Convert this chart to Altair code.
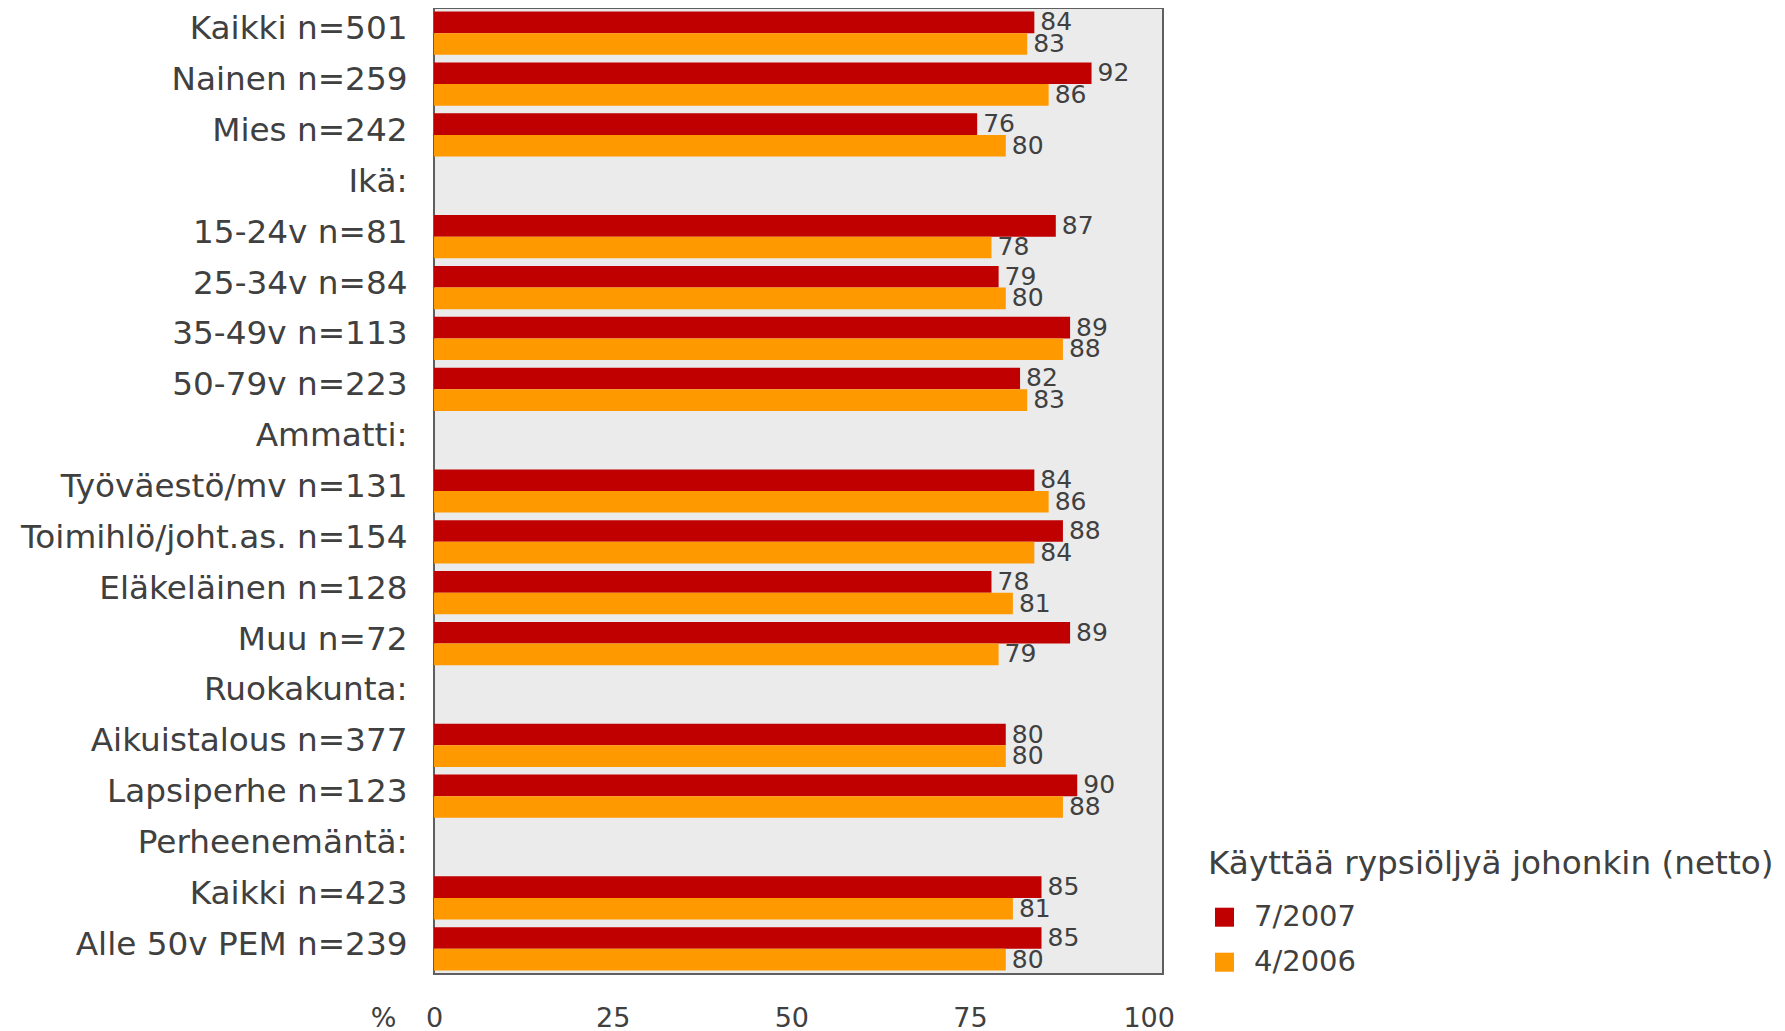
import altair as alt
import pandas as pd

rows = [
    "Kaikki n=501", "Nainen n=259", "Mies n=242", "Ikä:",
    "15-24v n=81", "25-34v n=84", "35-49v n=113", "50-79v n=223", "Ammatti:",
    "Työväestö/mv n=131", "Toimihlö/joht.as. n=154", "Eläkeläinen n=128", "Muu n=72",
    "Ruokakunta:", "Aikuistalous n=377", "Lapsiperhe n=123", "Perheenemäntä:",
    "Kaikki n=423", "Alle 50v PEM n=239",
]
bar_rows = [
    "Kaikki n=501", "Nainen n=259", "Mies n=242",
    "15-24v n=81", "25-34v n=84", "35-49v n=113", "50-79v n=223",
    "Työväestö/mv n=131", "Toimihlö/joht.as. n=154", "Eläkeläinen n=128", "Muu n=72",
    "Aikuistalous n=377", "Lapsiperhe n=123",
    "Kaikki n=423", "Alle 50v PEM n=239",
]
series = ["7/2007", "4/2006"]
v2007 = [84, 92, 76, 87, 79, 89, 82, 84, 88, 78, 89, 80, 90, 85, 85]
v2006 = [83, 86, 80, 78, 80, 88, 83, 86, 84, 81, 79, 80, 88, 81, 80]
colors = ["#C00000", "#FF9900"]
legend_title = "Käyttää rypsiöljyä johonkin (netto)"

recs = []
for r, a, b in zip(bar_rows, v2007, v2006):
    recs.append({"ryhma": r, "sarja": series[0], "arvo": a})
    recs.append({"ryhma": r, "sarja": series[1], "arvo": b})
df = pd.DataFrame(recs)

FONT = "DejaVu Sans"
TXT = "#404040"

y_scale = alt.Scale(domain=rows, paddingInner=0.15, paddingOuter=0.07)
y_enc = alt.Y("ryhma:N", scale=y_scale,
              axis=alt.Axis(title=None, ticks=False, domain=False, labelPadding=27,
                            labelOffset=-4, labelFontSize=32.7, labelFont=FONT,
                            labelColor=TXT, labelLimit=600))
yoff = alt.YOffset("sarja:N", scale=alt.Scale(domain=series, paddingInner=0, paddingOuter=0))
x_enc = alt.X("arvo:Q", scale=alt.Scale(domain=[0, 102], nice=False, zero=True),
              axis=alt.Axis(values=[0, 25, 50, 75, 100], grid=False, ticks=False, domain=False,
                            labelFlush=False, labelOverlap=False,
                            labelPadding=31, labelFontSize=27, labelFont=FONT, labelColor=TXT,
                            title="%", titleFontSize=27, titleFont=FONT, titleColor=TXT,
                            titleFontWeight="normal", titleX=-51, titleY=31,
                            titleBaseline="top", titleAlign="center", titleAnchor="start"))

bars = alt.Chart(df).mark_bar().encode(
    y=y_enc, yOffset=yoff, x=x_enc,
    color=alt.Color("sarja:N", scale=alt.Scale(domain=series, range=colors),
                    legend=alt.Legend(title=legend_title, orient="none", legendX=774, legendY=840,
                                      direction="vertical", titleFontSize=32.7, titleFont=FONT,
                                      titleColor=TXT, titleFontWeight="normal", titleLimit=900,
                                      titlePadding=22, labelFontSize=29, labelFont=FONT,
                                      labelColor=TXT, labelLimit=400, labelOffset=15,
                                      symbolType="square", symbolSize=361, symbolStrokeWidth=0,
                                      symbolOffset=2, rowPadding=15, padding=0)),
)

labels = alt.Chart(df).mark_text(align="left", baseline="middle", dx=6, fontSize=25,
                                 font=FONT, color=TXT).encode(
    y=alt.Y("ryhma:N", scale=y_scale),
    yOffset=yoff,
    x=alt.X("arvo:Q"),
    text=alt.Text("arvo:Q"),
)

chart = alt.layer(bars, labels).properties(
    width=729, height=966,
    padding={"left": 426, "top": 0, "right": 614, "bottom": 60},
    autosize=alt.AutoSizeParams(type="none"),
).configure_view(fill="#ebebeb", stroke="#5f5f5f", strokeWidth=2)

chart.save("out.html", embed_options={"renderer": "svg", "actions": False})
